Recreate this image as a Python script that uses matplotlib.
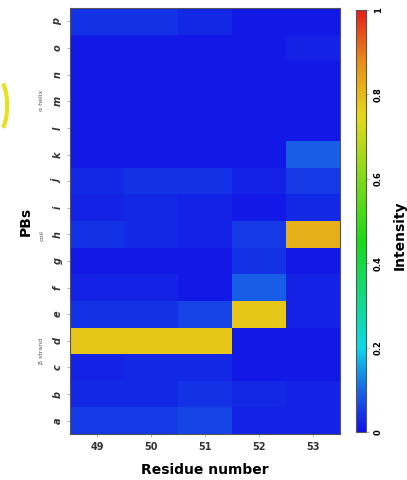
import numpy as np
import matplotlib
matplotlib.use("Agg")
from matplotlib import pyplot as plt
from matplotlib.colors import LinearSegmentedColormap
from matplotlib.patches import Arc

# protein blocks (rows, bottom to top) and residues (columns)
pbs = ['a', 'b', 'c', 'd', 'e', 'f', 'g', 'h', 'i', 'j', 'k', 'l', 'm', 'n', 'o', 'p']
residues = ['49', '50', '51', '52', '53']

# intensity per residue, listed a -> p
res49 = [0.05, 0.03, 0.02, 0.78, 0.04, 0.02, 0.01, 0.04, 0.02, 0.03, 0.01, 0.01, 0.01, 0.01, 0.01, 0.04]
res50 = [0.05, 0.03, 0.03, 0.78, 0.04, 0.02, 0.01, 0.03, 0.03, 0.04, 0.01, 0.01, 0.01, 0.01, 0.01, 0.04]
res51 = [0.06, 0.04, 0.03, 0.78, 0.06, 0.01, 0.01, 0.02, 0.02, 0.04, 0.01, 0.01, 0.01, 0.01, 0.01, 0.03]
res52 = [0.02, 0.03, 0.01, 0.01, 0.78, 0.09, 0.04, 0.05, 0.01, 0.02, 0.01, 0.01, 0.01, 0.01, 0.01, 0.01]
res53 = [0.02, 0.02, 0.01, 0.01, 0.02, 0.02, 0.01, 0.82, 0.03, 0.05, 0.09, 0.01, 0.01, 0.01, 0.02, 0.01]

data = np.array([res49, res50, res51, res52, res53]).T

cmap = LinearSegmentedColormap.from_list('intens', [
    (0.0, (0.07, 0.07, 0.90)),
    (0.1, (0.10, 0.40, 0.90)),
    (0.2, (0.05, 0.85, 0.90)),
    (0.45, (0.10, 0.85, 0.10)),
    (0.75, (0.90, 0.85, 0.10)),
    (0.88, (0.90, 0.55, 0.10)),
    (1.0, (0.90, 0.12, 0.10)),
])

fig = plt.figure(figsize=(4.07, 4.80), dpi=100)
ax = fig.add_axes([0.172, 0.096, 0.663, 0.887])
cax = fig.add_axes([0.875, 0.10, 0.025, 0.879])

im = ax.imshow(data, cmap=cmap, vmin=0, vmax=1, aspect='auto', origin='lower',
               interpolation='nearest')

ax.set_xticks(range(len(residues)))
ax.set_xticklabels(residues, fontsize=7, fontweight='bold', color='#333333')
ax.set_yticks(range(len(pbs)))
ax.set_yticklabels(pbs, fontsize=7, fontweight='bold', style='italic', rotation=90,
                   va='center', color='#333333')
ax.tick_params(axis='both', length=2, width=0.5, color='#999999')
for s in ax.spines.values():
    s.set_color('#555555')
    s.set_linewidth(0.8)

ax.set_xlabel('Residue number', fontsize=10, fontweight='bold', labelpad=8)
ax.set_ylabel('PBs', fontsize=10, fontweight='bold', labelpad=14)

# structure group labels
fig.text(0.103, 0.79, 'α helix', fontsize=4.5, rotation=90, ha='center', va='center', color='#555555')
fig.text(0.103, 0.51, 'coil', fontsize=4.5, rotation=90, ha='center', va='center', color='#555555')
fig.text(0.103, 0.27, 'β strand', fontsize=4.5, rotation=90, ha='center', va='center', color='#555555')

cb = fig.colorbar(im, cax=cax)
cb.set_ticks([0, 0.2, 0.4, 0.6, 0.8, 1])
cb.set_ticklabels(['0', '0.2', '0.4', '0.6', '0.8', '1'])
cb.ax.tick_params(labelsize=6, length=2, width=0.5, color='#999999')
for t in cb.ax.get_yticklabels():
    t.set_rotation(90)
    t.set_va('center')
    t.set_fontweight('bold')
cb.outline.set_edgecolor('#555555')
cb.outline.set_linewidth(0.8)
fig.text(0.983, 0.51, 'Intensity', fontsize=10, fontweight='bold', rotation=90,
         ha='center', va='center')

# yellow stroke on left edge
fig.add_artist(Arc((-0.005, 0.78), 0.045, 0.11, theta1=-75, theta2=75,
                   transform=fig.transFigure, color='#e8e020', lw=3))

plt.savefig('out.png', dpi=100)
